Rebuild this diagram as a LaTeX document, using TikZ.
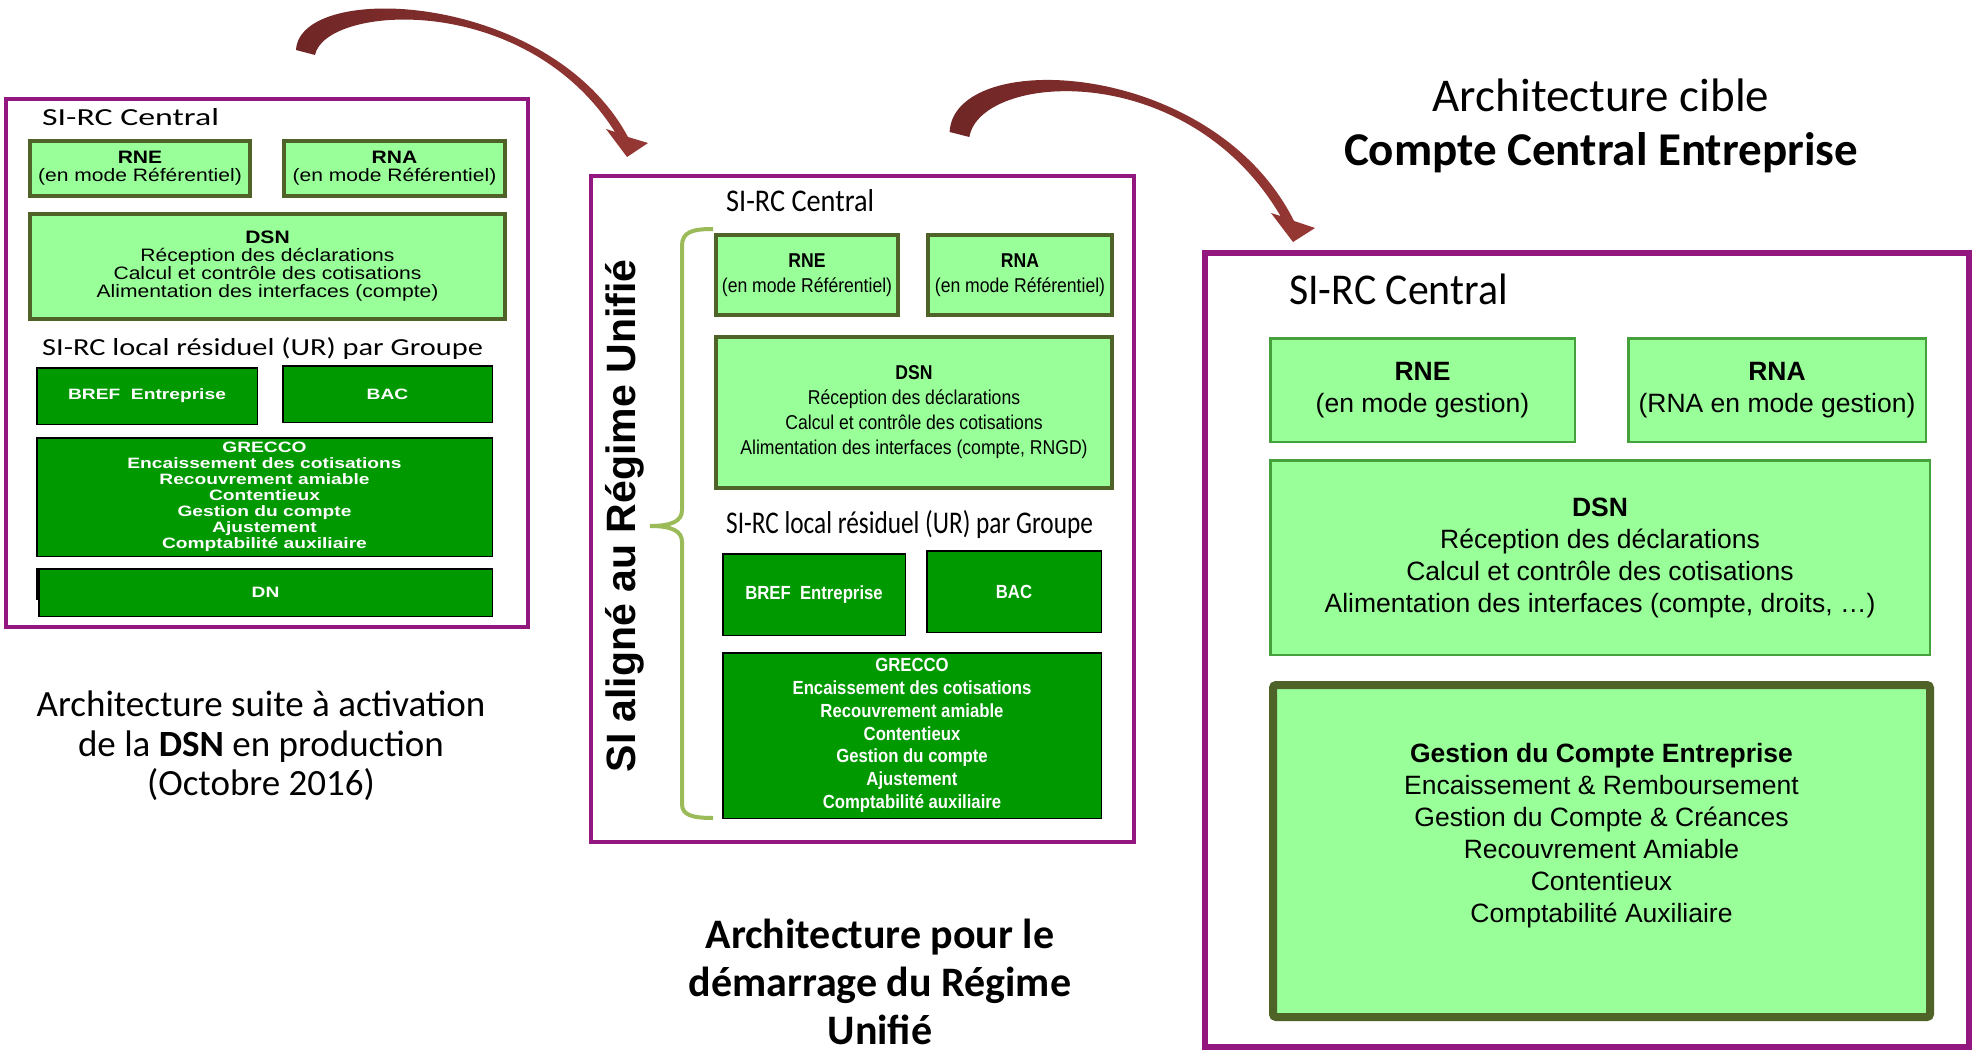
\documentclass[tikz,border=0pt]{standalone}
\usepackage{fontspec}
\setmainfont{Liberation Sans}
\newfontfamily\FC{Carlito}
\newfontfamily\FL[FakeStretch=1.17]{Liberation Sans}
\newfontfamily\FLD[FakeStretch=1.28]{Liberation Sans}
\newfontfamily\FM[FakeStretch=0.88]{Liberation Sans}
\newfontfamily\FR{Liberation Sans}
\usetikzlibrary{arrows.meta}
\definecolor{purp}{RGB}{146,24,128}
\definecolor{lgreen}{RGB}{153,255,153}
\definecolor{olivec}{RGB}{79,98,40}
\definecolor{dgreen}{RGB}{0,153,0}
\definecolor{mgreen}{RGB}{70,160,60}
\definecolor{arrowdark}{RGB}{112,38,38}
\definecolor{arrowlight}{RGB}{150,56,52}
\definecolor{bracegreen}{RGB}{155,187,89}
\tikzset{
  panel/.style={draw=purp, line width=4pt, fill=white, inner sep=0pt},
  lbox/.style={draw=olivec, line width=4pt, fill=lgreen, inner sep=0pt, align=center,
    font=\FL\fontsize{18}{18}\selectfont},
  ldbox/.style={draw=black, line width=1.5pt, fill=dgreen, inner sep=0pt, align=center,
    text=white, font=\FLD\bfseries\fontsize{15}{16}\selectfont},
  mbox/.style={draw=olivec, line width=4pt, fill=lgreen, inner sep=0pt, align=center,
    font=\FM\fontsize{20}{25}\selectfont},
  mdbox/.style={draw=black, line width=1.5pt, fill=dgreen, inner sep=0pt, align=center,
    text=white, font=\FM\bfseries\fontsize{19}{22.8}\selectfont},
  rbox/.style={draw=mgreen, line width=2.5pt, fill=lgreen, inner sep=0pt, align=center,
    font=\FR\fontsize{26.5}{32}\selectfont},
  rtext/.style={inner sep=0pt, align=center, font=\FR\fontsize{26.5}{32}\selectfont},
  head/.style={anchor=base west, inner sep=0pt},
  bigarrow/.style={left color=arrowdark, right color=arrowlight},
  bracestyle/.style={draw=bracegreen, line width=4pt},
  caption/.style={inner sep=0pt, align=center}
}
\begin{document}
\begin{tikzpicture}[x=1pt,y=-1pt]
\fill[white] (0,0) rectangle (1986,1052);
\useasboundingbox (0,0) rectangle (1986,1052);

% ---------------- left panel
\node[panel, minimum width=522pt, minimum height=528pt] (pL) at (267,363) {};
\node[head, font=\FC\fontsize{24.5}{24.5}\selectfont] (hL1) at (42,125) {\scalebox{1.38}[1]{SI-RC Central}};
\node[lbox, minimum width=220pt, minimum height=55pt] (rneL) at (140,168.5) {\textbf{RNE}\\(en mode Référentiel)};
\node[lbox, minimum width=221pt, minimum height=55pt] (rnaL) at (394.5,168.5) {\textbf{RNA}\\(en mode Référentiel)};
\node[lbox, minimum width=475pt, minimum height=105pt] (dsnL) at (267.5,266.5) {\textbf{DSN}\\Réception des déclarations\\Calcul et contrôle des cotisations\\Alimentation des interfaces (compte)};
\node[head, font=\FC\fontsize{24.5}{24.5}\selectfont] (hL2) at (42,355) {\scalebox{1.24}[1]{SI-RC local résiduel (UR) par Groupe}};
\node[ldbox, minimum width=220.5pt, minimum height=56.5pt] (brefL) at (147,396) {BREF\ \ Entreprise};
\node[ldbox, minimum width=209.5pt, minimum height=56.5pt] (bacL) at (387.5,394) {BAC};
\node[ldbox, minimum width=455.5pt, minimum height=118.5pt] (grL) at (264.5,497) {GRECCO\\Encaissement des cotisations\\Recouvrement amiable\\Contentieux\\Gestion du compte\\Ajustement\\Comptabilité auxiliaire};
\node[ldbox, minimum width=453.5pt, minimum height=47.5pt] (dnL) at (265.5,592.5) {DN};
\draw[black, line width=2pt] ([xshift=-1.5pt]dnL.north west) -- ([xshift=-1.5pt,yshift=-32pt]dnL.north west);
\node[caption, font=\FC\fontsize{37}{39.5}\selectfont] (capL) at (261,746) {Architecture suite à activation\\de la \textbf{DSN} en production\\(Octobre 2016)};

% ---------------- middle panel
\node[panel, minimum width=543pt, minimum height=666pt] (pM) at (862.5,509) {};
\node[head, font=\FC\fontsize{31.6}{31.6}\selectfont] (hM1) at (726,211.7) {\scalebox{0.895}[1]{SI-RC Central}};
\node[mbox, minimum width=182pt, minimum height=80pt] (rneM) at (807,275) {\textbf{RNE}\\(en mode Référentiel)};
\node[mbox, minimum width=184pt, minimum height=80pt] (rnaM) at (1020,275) {\textbf{RNA}\\(en mode Référentiel)};
\node[mbox, minimum width=396pt, minimum height=151pt] (dsnM) at (914,412.5) {\textbf{DSN}\\Réception des déclarations\\Calcul et contrôle des cotisations\\Alimentation des interfaces (compte, RNGD)};
\node[head, font=\FC\fontsize{31.6}{31.6}\selectfont] (hM2) at (726,533) {\scalebox{0.8}[1]{SI-RC local résiduel (UR) par Groupe}};
\node[mdbox, minimum width=182.5pt, minimum height=81.5pt] (brefM) at (814,594.5) {BREF\ \ Entreprise};
\node[mdbox, minimum width=174.5pt, minimum height=81.5pt] (bacM) at (1014,591.5) {BAC};
\node[mdbox, minimum width=378.5pt, minimum height=165.5pt] (grM) at (912,735.5) {GRECCO\\Encaissement des cotisations\\Recouvrement amiable\\Contentieux\\Gestion du compte\\Ajustement\\Comptabilité auxiliaire};
\draw[bracestyle] (713,229) .. controls (692,229) and (682,232) .. (682,246) -- (682,510)
  .. controls (682,521) and (672,526) .. (650,526)
  .. controls (672,526) and (682,531) .. (682,542) -- (682,804)
  .. controls (682,815) and (692,818) .. (713,818);
\node[rotate=90, inner sep=0pt, font=\FR\bfseries\fontsize{41}{41}\selectfont] (vt) at (625,516) {SI aligné au Régime Unifié};
\node[caption, font=\FC\bfseries\fontsize{42}{48}\selectfont] (capM) at (880,982) {Architecture pour le\\démarrage du Régime\\Unifié};

% ---------------- right panel
\node[panel, line width=6pt, minimum width=764pt, minimum height=794pt] (pR) at (1587,650) {};
\node[head, font=\FC\fontsize{44}{44}\selectfont] (hR1) at (1289,304) {\scalebox{0.95}[1]{SI-RC Central}};
\node[rbox, minimum width=304.5pt, minimum height=103.5pt] (rneR) at (1422.5,390) {\textbf{RNE}\\(en mode gestion)};
\node[rbox, minimum width=297.5pt, minimum height=103.5pt] (rnaR) at (1777,390) {\textbf{RNA}\\(RNA en mode gestion)};
\node[rbox, minimum width=659.5pt, minimum height=194.5pt] (dsnR) at (1600,557.5) {\textbf{DSN}\\Réception des déclarations\\Calcul et contrôle des cotisations\\Alimentation des interfaces (compte, droits, …)};
\node[draw=olivec, line width=8pt, fill=lgreen, rounded corners=3pt, minimum width=657pt, minimum height=332pt, inner sep=0pt] (gce) at (1601.5,851) {};
\node[rtext] (gcet) at ([yshift=15pt]gce.center) {\textbf{Gestion du Compte Entreprise}\\Encaissement \& Remboursement\\Gestion du Compte \& Créances\\Recouvrement Amiable\\Contentieux\\Comptabilité Auxiliaire};
\node[caption, font=\FC\fontsize{47}{54}\selectfont] (capR) at (1601,126) {Architecture cible\\\textbf{Compte Central Entreprise}};

% ---------------- curved arrows (tapered shapes)
\coordinate (a1tail) at (296,50);
\coordinate (a1tip) at (627,157);
\shade[bigarrow] (a1tail) .. controls (300,-20) and (550,-8) .. (628,137)
  -- (648,143) -- (a1tip) -- (606,129) -- (615,132)
  .. controls (525,-10) and (325,5) .. (315,55) -- cycle;
\coordinate (a2tail) at (949.6,132);
\coordinate (a2tip) at (1293,242);
\shade[bigarrow] (a2tail) .. controls (953.8,47) and (1213,59) .. (1294,221)
  -- (1315,228) -- (a2tip) -- (1271,213) -- (1280.5,216)
  .. controls (1187,57) and (980,73) .. (969.4,137) -- cycle;
\end{tikzpicture}
\end{document}
